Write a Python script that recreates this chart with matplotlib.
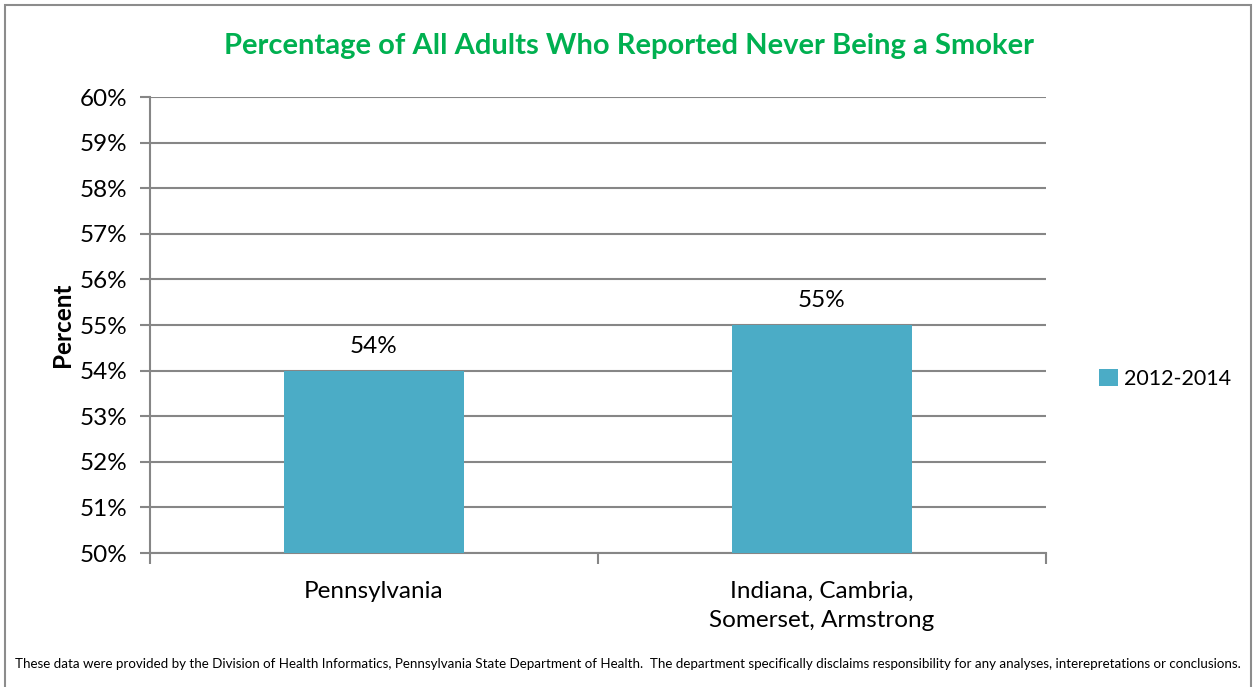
import matplotlib
matplotlib.use("Agg")
import matplotlib.pyplot as plt
from matplotlib.patches import Rectangle

# ======= Dane =======
categories = ["Pennsylvania", "Indiana, Cambria,\nSomerset, Armstrong"]
values = [54, 55]
series_label = "2012-2014"
y_ticks = [50, 51, 52, 53, 54, 55, 56, 57, 58, 59, 60]

TITLE = "Percentage of All Adults Who Reported Never Being a Smoker"
FOOTER = ("These data were provided by the Division of Health Informatics, Pennsylvania State "
          "Department of Health.  The department specifically disclaims responsibility for any "
          "analyses, interepretations or conclusions.")

BAR_COLOR = "#4BACC6"
GRID_COLOR = "#868686"
FONT = ["Lato", "DejaVu Sans"]

W, H = 1254, 687
fig = plt.figure(figsize=(W / 100, H / 100), dpi=100)

# obramowanie całego wykresu
fig.patches.append(Rectangle((5 / W, -0.01), 1246 / W, 1.01 - 5 / H, transform=fig.transFigure,
                             fill=False, edgecolor="#8c8c8c", linewidth=1.5))

ax = fig.add_axes([150 / W, 1 - 553 / H, (1046 - 150) / W, (553 - 97) / H])

x = list(range(len(categories)))
ax.bar(x, [v - y_ticks[0] for v in values], bottom=y_ticks[0], width=0.4,
       color=BAR_COLOR, label=series_label, zorder=3)

for xi, v in zip(x, values):
    ax.text(xi, v + 0.3, f"{v}%", ha="center", va="bottom", fontsize=17.5,
            family=FONT, color="black")

ax.set_xlim(-0.5, len(categories) - 0.5)
ax.set_ylim(y_ticks[0], y_ticks[-1])
ax.set_yticks(y_ticks)
ax.set_yticklabels([f"{t}%" for t in y_ticks], family=FONT, fontsize=17.5)
ax.yaxis.grid(True, color=GRID_COLOR, linewidth=1.5, zorder=0)
ax.tick_params(axis="y", length=7, width=1.5, color=GRID_COLOR, pad=9)

ax.set_xticks(x)
ax.set_xticklabels(categories, family=FONT, fontsize=17.5, linespacing=1.5)
ax.set_xticks([-0.5, 0.5, 1.5], minor=True)
ax.tick_params(axis="x", which="major", length=0, pad=20)
ax.tick_params(axis="x", which="minor", length=8, width=1.5, color=GRID_COLOR)

for side in ["top", "right"]:
    ax.spines[side].set_visible(False)
for side in ["left", "bottom"]:
    ax.spines[side].set_color(GRID_COLOR)
    ax.spines[side].set_linewidth(1.5)

ax.set_ylabel("Percent", family=FONT, fontsize=17.5, fontweight="bold", labelpad=4)

fig.text(629 / W, 1 - 46 / H, TITLE, ha="center", va="center", fontsize=21,
         fontweight="bold", color="#00B050", family=FONT)

fig.legend(handles=ax.get_legend_handles_labels()[0], labels=[series_label],
           loc="center left", bbox_to_anchor=(1080 / W, 1 - 379 / H), frameon=False,
           prop={"family": FONT, "size": 15.5}, handlelength=0.85, handleheight=0.85,
           handletextpad=0.3)

# stopka - zmniejsz czcionkę aż się zmieści
footer = fig.text(628 / W, 1 - 664 / H, FOOTER, ha="center", va="center", fontsize=13,
                  family=FONT, color="black")
renderer = fig.canvas.get_renderer()
size = 13
while footer.get_window_extent(renderer).width > 1236 and size > 6:
    size -= 0.1
    footer.set_fontsize(size)

fig.savefig("out.png", dpi=100)
